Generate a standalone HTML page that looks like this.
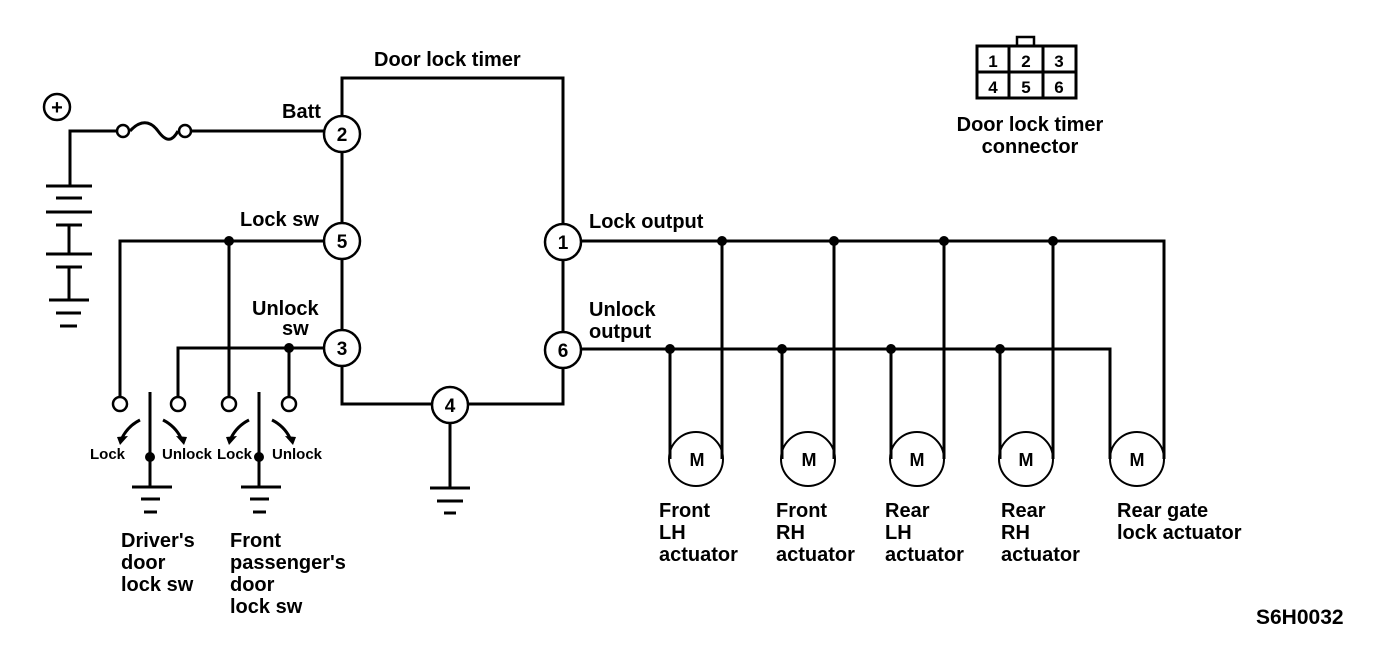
<!DOCTYPE html>
<html><head><style>
html,body{margin:0;padding:0;background:#fff;}
svg{display:block;}
text{font-family:"Liberation Sans",Arial,sans-serif;font-weight:bold;fill:#000;}
</style></head><body>
<svg width="1392" height="654" viewBox="0 0 1392 654" xmlns="http://www.w3.org/2000/svg">
<g fill="none" stroke="#000" stroke-width="3">
<polyline points="342,116 342,78 563,78 563,224"/>
<line x1="342" y1="152" x2="342" y2="222"/>
<line x1="342" y1="258" x2="342" y2="330"/>
<polyline points="342,366 342,404 432,404"/>
<polyline points="468,404 563,404 563,368"/>
<line x1="563" y1="260" x2="563" y2="332"/>
<polyline points="70,187 70,131 118,131"/>
<line x1="190" y1="131" x2="324" y2="131"/>
<path d="M130,131 C140,120 150,120 158,131 C166,142 172,142 178,131" />
<line x1="46" y1="186" x2="92" y2="186"/>
<line x1="56" y1="198" x2="82" y2="198"/>
<line x1="46" y1="212" x2="92" y2="212"/>
<line x1="56" y1="225" x2="82" y2="225"/>
<line x1="69" y1="225" x2="69" y2="254"/>
<line x1="46" y1="254" x2="92" y2="254"/>
<line x1="56" y1="267" x2="82" y2="267"/>
<line x1="69" y1="267" x2="69" y2="300"/>
<line x1="49" y1="300" x2="89" y2="300"/>
<line x1="56" y1="313" x2="81" y2="313"/>
<line x1="60" y1="326" x2="77" y2="326"/>
<polyline points="120,397 120,241 324,241"/>
<line x1="229" y1="241" x2="229" y2="397"/>
<polyline points="178,397 178,348 324,348"/>
<line x1="289" y1="348" x2="289" y2="397"/>
<line x1="150" y1="392" x2="150" y2="487"/>
<line x1="259" y1="392" x2="259" y2="487"/>
<line x1="132" y1="487" x2="172" y2="487"/>
<line x1="141" y1="499" x2="160" y2="499"/>
<line x1="144" y1="512" x2="157" y2="512"/>
<line x1="241" y1="487" x2="281" y2="487"/>
<line x1="250" y1="499" x2="269" y2="499"/>
<line x1="253" y1="512" x2="266" y2="512"/>
<line x1="450" y1="423" x2="450" y2="488"/>
<line x1="430" y1="488" x2="470" y2="488"/>
<line x1="437" y1="501" x2="463" y2="501"/>
<line x1="444" y1="513" x2="456" y2="513"/>
<polyline points="581,241 1164,241 1164,459"/>
<polyline points="581,349 1110,349 1110,459"/>
<line x1="722" y1="241" x2="722" y2="459"/>
<line x1="834" y1="241" x2="834" y2="459"/>
<line x1="944" y1="241" x2="944" y2="459"/>
<line x1="1053" y1="241" x2="1053" y2="459"/>
<line x1="670" y1="349" x2="670" y2="459"/>
<line x1="782" y1="349" x2="782" y2="459"/>
<line x1="891" y1="349" x2="891" y2="459"/>
<line x1="1000" y1="349" x2="1000" y2="459"/>
<rect x="977" y="46" width="99" height="52"/>
<line x1="1009" y1="46" x2="1009" y2="98"/>
<line x1="1043" y1="46" x2="1043" y2="98"/>
<line x1="977" y1="72" x2="1076" y2="72"/>
<polyline points="1017,46 1017,37 1034,37 1034,46" stroke-width="2.5"/>
</g>
<g fill="#fff" stroke="#000" stroke-width="2.5">
<circle cx="57" cy="107" r="13"/>
<circle cx="123" cy="131" r="6"/><circle cx="185" cy="131" r="6"/>
<circle cx="342" cy="134" r="18"/>
<circle cx="342" cy="241" r="18"/>
<circle cx="342" cy="348" r="18"/>
<circle cx="563" cy="242" r="18"/>
<circle cx="563" cy="350" r="18"/>
<circle cx="450" cy="405" r="18"/>
<circle cx="120" cy="404" r="7"/><circle cx="178" cy="404" r="7"/>
<circle cx="229" cy="404" r="7"/><circle cx="289" cy="404" r="7"/>
</g>
<g fill="none" stroke="#000" stroke-width="2">
<circle cx="696" cy="459" r="27"/>
<circle cx="808" cy="459" r="27"/>
<circle cx="917" cy="459" r="27"/>
<circle cx="1026" cy="459" r="27"/>
<circle cx="1137" cy="459" r="27"/>
</g>
<g fill="#000">
<circle cx="229" cy="241" r="5"/><circle cx="289" cy="348" r="5"/>
<circle cx="150" cy="457" r="5"/><circle cx="259" cy="457" r="5"/>
<circle cx="722" cy="241" r="5"/><circle cx="834" cy="241" r="5"/><circle cx="944" cy="241" r="5"/><circle cx="1053" cy="241" r="5"/>
<circle cx="670" cy="349" r="5"/><circle cx="782" cy="349" r="5"/><circle cx="891" cy="349" r="5"/><circle cx="1000" cy="349" r="5"/>
</g>
<g fill="none" stroke="#000" stroke-width="3">
<path d="M140,420 Q128,426 122,438"/>
<path d="M163,420 Q175,426 181,438"/>
<path d="M249,420 Q237,426 231,438"/>
<path d="M272,420 Q284,426 290,438"/>
</g>
<g fill="#000">
<polygon points="117,437 128,436 120,445"/>
<polygon points="176,436 187,437 184,445"/>
<polygon points="226,437 237,436 229,445"/>
<polygon points="285,436 296,437 293,445"/>
</g>
<text x="57" y="114" font-size="20" text-anchor="middle">+</text>
<g font-size="20">
<text x="374" y="66">Door lock timer</text>
<text x="282" y="118">Batt</text>
<text x="240" y="226">Lock sw</text>
<text x="252" y="315">Unlock</text>
<text x="282" y="335">sw</text>
<text x="589" y="228">Lock output</text>
<text x="589" y="316">Unlock</text>
<text x="589" y="338">output</text>
</g>
<g font-size="19" text-anchor="middle">
<text x="342" y="141">2</text><text x="342" y="248">5</text><text x="342" y="355">3</text>
<text x="563" y="249">1</text><text x="563" y="357">6</text><text x="450" y="412">4</text>
</g>
<g font-size="17" text-anchor="middle">
<text x="993" y="67">1</text><text x="1026" y="67">2</text><text x="1059" y="67">3</text>
<text x="993" y="93">4</text><text x="1026" y="93">5</text><text x="1059" y="93">6</text>
</g>
<text x="1030" y="131" font-size="20" text-anchor="middle">Door lock timer</text>
<text x="1030" y="153" font-size="20" text-anchor="middle">connector</text>
<g font-size="15">
<text x="90" y="459">Lock</text><text x="162" y="459">Unlock</text>
<text x="217" y="459">Lock</text><text x="272" y="459">Unlock</text>
</g>
<g font-size="18" text-anchor="middle">
<text x="697" y="466">M</text><text x="809" y="466">M</text><text x="917" y="466">M</text><text x="1026" y="466">M</text><text x="1137" y="466">M</text>
</g>
<g font-size="20">
<text x="121" y="547">Driver's</text><text x="121" y="569">door</text><text x="121" y="591">lock sw</text>
<text x="230" y="547">Front</text><text x="230" y="569">passenger's</text><text x="230" y="591">door</text><text x="230" y="613">lock sw</text>
<text x="659" y="517">Front</text><text x="659" y="539">LH</text><text x="659" y="561">actuator</text>
<text x="776" y="517">Front</text><text x="776" y="539">RH</text><text x="776" y="561">actuator</text>
<text x="885" y="517">Rear</text><text x="885" y="539">LH</text><text x="885" y="561">actuator</text>
<text x="1001" y="517">Rear</text><text x="1001" y="539">RH</text><text x="1001" y="561">actuator</text>
<text x="1117" y="517">Rear gate</text><text x="1117" y="539">lock actuator</text>
<text x="1256" y="624" font-size="21">S6H0032</text>
</g>
</svg>
</body></html>
